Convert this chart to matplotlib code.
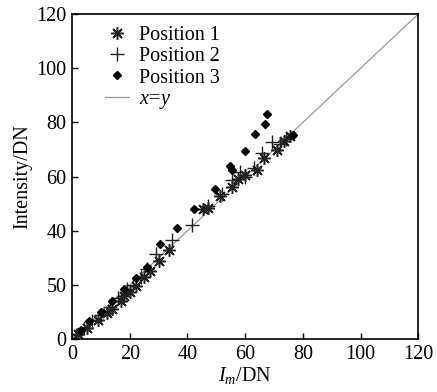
import matplotlib
matplotlib.use("Agg")
import matplotlib.pyplot as plt

plt.rcParams['font.family'] = ['Liberation Serif', 'DejaVu Serif']
plt.rcParams['mathtext.fontset'] = 'custom'
plt.rcParams['mathtext.rm'] = 'Liberation Serif'
plt.rcParams['mathtext.it'] = 'Liberation Serif:italic'

# Position 1 (asterisk)
p1_x = [2, 5, 9, 12, 14, 17, 18, 20, 22, 25, 27, 30, 33.5, 45.5, 47, 51.3, 55.4, 57.5, 60, 64, 66.4, 71, 73.5, 75.5]
p1_y = [2, 4, 7, 9.5, 11, 14, 16, 17.5, 19.5, 23, 25, 29, 33, 48, 48.5, 53, 56, 59, 60.5, 62.4, 66.7, 70, 73, 75]
# Position 2 (+)
p2_x = [1.5, 4, 7, 10, 13, 16, 19, 21, 24, 26, 29, 34.6, 41.5, 47, 52, 55.4, 58.3, 60, 63, 65.8, 69.3, 72, 74]
p2_y = [1.5, 4, 6.5, 9, 12, 15, 18.5, 20, 23, 26, 31.6, 36.6, 42, 49, 53.5, 58.7, 61.8, 60, 63, 68.6, 72.9, 72, 74]
# Position 3 (diamond)
p3_x = [3, 6, 10, 14, 18, 22, 26, 30.5, 36.3, 42.1, 49.6, 54.7, 55.5, 59.8, 63.5, 66.9, 67.5, 76.5]
p3_y = [3.5, 6.5, 10, 14, 18.5, 22.5, 26.5, 35, 41.1, 47.9, 55.3, 63.9, 62.4, 69.5, 75.6, 79.6, 83.0, 75.5]

line_xy = [0, 120]
x_ticks = [0, 20, 40, 60, 80, 100, 120]
y_ticks = [0, 20, 40, 60, 80, 100, 120]
y_tick_labels = ["0", "50", "40", "60", "80", "100", "120"]

fig = plt.figure(figsize=(4.37, 3.92), dpi=100)
ax = fig.add_axes([0.165, 0.135, 0.792, 0.829])

ax.plot(p1_x, p1_y, linestyle='none', marker=(8, 2, 0), markersize=9,
        markeredgewidth=1.1, color='#222222', label='Position 1')
ax.plot(p2_x, p2_y, linestyle='none', marker='+', markersize=10,
        markeredgewidth=1.0, color='#222222', label='Position 2')
ax.plot(p3_x, p3_y, linestyle='none', marker='D', markersize=3.6,
        color='black', label='Position 3')
ax.plot(line_xy, line_xy, color='#999999', linewidth=0.9, label=r'$x\!=\!y$', zorder=0)

ax.set_xlim(0, 120)
ax.set_ylim(0, 120)
ax.set_xticks(x_ticks)
ax.set_yticks(y_ticks)
ax.set_yticklabels(y_tick_labels)
ax.tick_params(direction='in', length=4, width=1, labelsize=14.5, top=False, right=False, pad=4)
for s in ax.spines.values():
    s.set_linewidth(1.2)

ax.set_xlabel(r'$I_m$/DN', fontsize=14.5, labelpad=1)
ax.set_ylabel('Intensity/DN', fontsize=14.5, labelpad=3)

leg = ax.legend(loc='upper left', frameon=False, fontsize=14.5, handlelength=1.2,
                handletextpad=0.5, labelspacing=0.1, borderaxespad=0.2,
                bbox_to_anchor=(0.06, 1.0))

fig.savefig('out.png', dpi=100)
